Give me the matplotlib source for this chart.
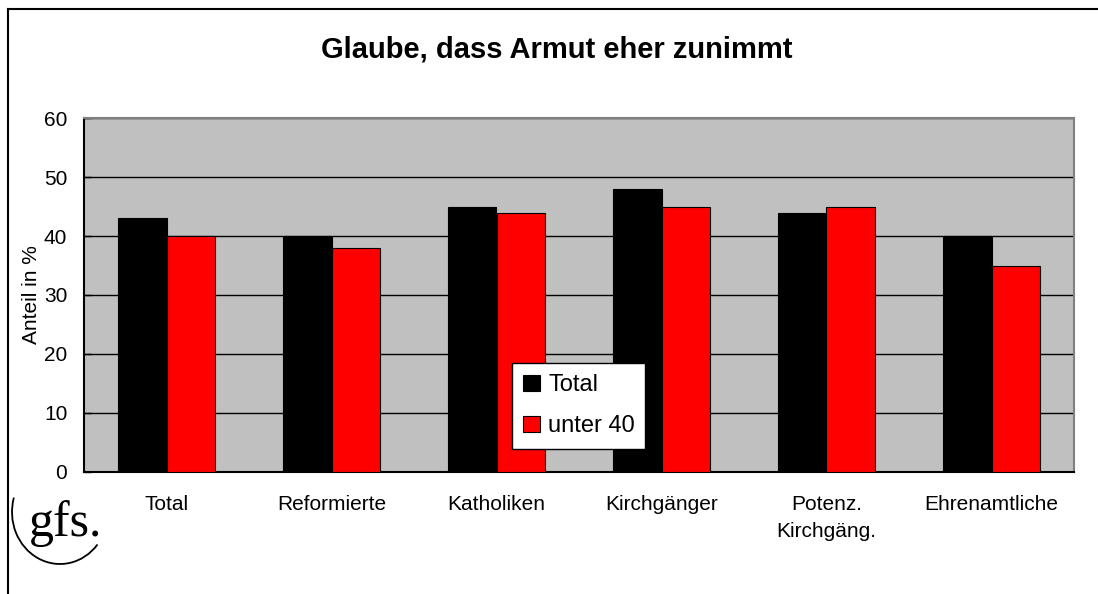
import matplotlib
matplotlib.use("Agg")
import matplotlib.pyplot as plt
import numpy as np
from matplotlib.lines import Line2D
from matplotlib.patches import Arc

plt.rcParams['font.family'] = ['Liberation Sans', 'DejaVu Sans']

categories = ["Total", "Reformierte", "Katholiken", "Kirchgänger", "Potenz.\nKirchgäng.", "Ehrenamtliche"]
total = [43, 40, 45, 48, 44, 40]
unter40 = [40, 38, 44, 45, 45, 35]
series_labels = ["Total", "unter 40"]
title = "Glaube, dass Armut eher zunimmt"
ylabel = "Anteil in %"
yticks = [0, 10, 20, 30, 40, 50, 60]

W, H = 1098, 594
fig = plt.figure(figsize=(W / 100, H / 100), dpi=100)
ax = fig.add_axes([84 / W, 1 - 471.7 / H, 990 / W, 353.4 / H])
ax.set_facecolor('#C0C0C0')

x = np.arange(len(categories))
bw = 0.293
b1 = ax.bar(x - bw / 2, total, bw, color='black', edgecolor='black', linewidth=0.8, label=series_labels[0], zorder=3)
b2 = ax.bar(x + bw / 2, unter40, bw, color='#FF0000', edgecolor='black', linewidth=0.8, label=series_labels[1], zorder=3)

ax.set_xlim(-0.5, len(categories) - 0.5)
ax.set_ylim(0, 60)
ax.set_yticks(yticks)
ax.yaxis.grid(True, color='black', linewidth=1.0, zorder=1)
ax.set_axisbelow(True)
ax.tick_params(axis='y', direction='in', length=5, width=1, labelsize=15, pad=12)
ax.set_xticks(x)
ax.set_xticklabels(categories, fontsize=15, linespacing=1.5)
ax.tick_params(axis='x', length=0, pad=17)
for s in ['top', 'right']:
    ax.spines[s].set_color('#808080')
    ax.spines[s].set_linewidth(1.5)
for s in ['left', 'bottom']:
    ax.spines[s].set_color('black')
    ax.spines[s].set_linewidth(1.5)

ax.set_ylabel(ylabel, fontsize=15, labelpad=2)

leg = ax.legend(loc='lower left', bbox_to_anchor=(0.432, 0.064, 0.135, 0.241), mode='expand',
                fontsize=17, frameon=True, fancybox=False, shadow=False, framealpha=1,
                handlelength=0.7, handleheight=0.7, handletextpad=0.35, labelspacing=0.8,
                borderpad=0.5, borderaxespad=0)
leg.get_frame().set_edgecolor('black')
leg.get_frame().set_linewidth(1.0)
leg.get_frame().set_facecolor('white')

fig.text(557 / W, 1 - 50 / H, title, fontsize=21, fontweight='bold', ha='center', va='center')

# figure border lines
fig.add_artist(Line2D([7.5 / W, 7.5 / W], [0, 1 - 8.5 / H], transform=fig.transFigure, color='black', linewidth=1.5))
fig.add_artist(Line2D([7.5 / W, 1], [1 - 8.5 / H, 1 - 8.5 / H], transform=fig.transFigure, color='black', linewidth=1.5))

# gfs logo
fig.text(29 / W, 1 - 536 / H, "gfs.", fontsize=36, family=['Liberation Serif', 'DejaVu Serif'],
         ha='left', va='baseline')
fig.add_artist(Arc((60 / W, 1 - 512 / H), 96 / W, 104 / H, theta1=150, theta2=302,
                   transform=fig.transFigure, color='black', linewidth=1.3))

fig.savefig("out.png", dpi=100)
